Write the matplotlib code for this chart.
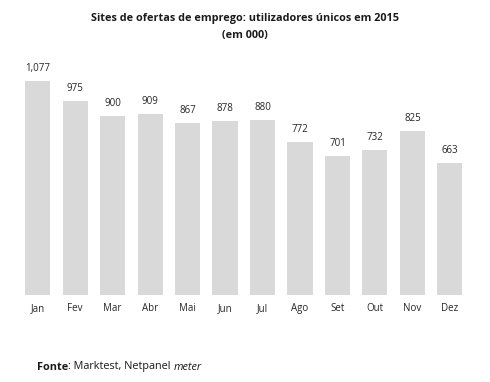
import matplotlib
matplotlib.use("Agg")
import matplotlib.pyplot as plt

meses = ["Jan", "Fev", "Mar", "Abr", "Mai", "Jun", "Jul", "Ago", "Set", "Out", "Nov", "Dez"]
utilizadores = [1077, 975, 900, 909, 867, 878, 880, 772, 701, 732, 825, 663]

plt.rcParams["font.family"] = ["Open Sans", "DejaVu Sans"]

fig = plt.figure(figsize=(4.9, 3.82), dpi=100)
ax = fig.add_axes([0.0383, 0.2277, 0.9183, 0.6243])

x = range(len(meses))
bars = ax.bar(x, utilizadores, width=0.667, color="#d9d9d9")
for b, v in zip(bars, utilizadores):
    ax.annotate(f"{v:,}", (b.get_x() + b.get_width() / 2, v), xytext=(0, 5),
                textcoords="offset points", ha="center", va="bottom",
                fontsize=7, color="#262626")

ax.set_xlim(-0.5, len(meses) - 0.5)
ax.set_ylim(0, 1200)
ax.set_xticks(list(x))
ax.set_xticklabels(meses, fontsize=7, color="#262626")
ax.tick_params(axis="x", length=0, pad=6)
ax.set_yticks([])
for s in ax.spines.values():
    s.set_visible(False)

fig.text(0.5, 0.952, "Sites de ofertas de emprego: utilizadores únicos em 2015",
         ha="center", va="center", fontsize=7.8, fontweight="bold", color="#1a1a1a")
fig.text(0.5, 0.907, "(em 000)", ha="center", va="center",
         fontsize=7.8, fontweight="bold", color="#1a1a1a")

# fonte com estilos mistos
r = fig.canvas.get_renderer()
t1 = fig.text(37 / 490, 1 - 367 / 382, "Fonte", fontsize=7.8, fontweight="bold",
              va="center", color="#1a1a1a")
bb = t1.get_window_extent(r)
t2 = fig.text(bb.x1 / fig.bbox.width, 1 - 367 / 382, ": Marktest, Netpanel ",
              fontsize=7.8, va="center", color="#1a1a1a")
bb = t2.get_window_extent(r)
fig.text(bb.x1 / fig.bbox.width, 1 - 367 / 382, "meter", fontsize=7.8,
         style="italic", va="center", color="#1a1a1a")

fig.savefig("out.png", dpi=100)
